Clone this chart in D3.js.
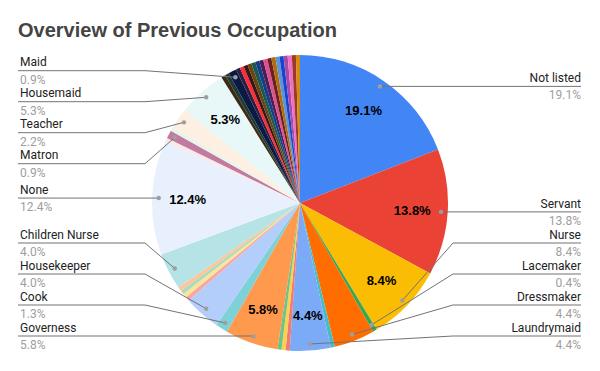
<!DOCTYPE html>
<html><head><meta charset="utf-8">
<script src="https://cdn.jsdelivr.net/npm/d3@7"></script>
<style>body{margin:0;background:#fff}svg{display:block}</style>
</head><body><svg id="c" width="600" height="371"></svg>
<script>
// ---- data ----
const categories = ["Not listed","Servant","Nurse","Lacemaker","Dressmaker","Other A","Laundrymaid",
  "Other B","Other C","Other D","Governess","Cook","Housekeeper","Other E","Other F","Other G","Other H",
  "Children Nurse","None","Other I","Matron","Other J","Teacher","Housemaid","Other K","Other L","Maid",
  "Other M","Other N","Other O","Other P","Other Q","Other R","Other S","Other T","Other U","Other V",
  "Other W","Other X","Other Y","Other Z","Other AA","Other AB"];
const counts = [43,31,19,1,10,1,10,
  1,1,1,13,3,9,1,1,1,1,
  9,28,1,2,1,5,12,1,1,2,
  1,1,1,1,1,1,1,1,1,1,
  1,1,1,1,1,1];
const colors = ["#4285f4","#ea4335","#fbbc04","#34a853","#ff6d01","#46bdc6","#7baaf7",
  "#f07b72","#fcd04f","#71c287","#ff994d","#7ed1d7","#b3cefb","#f7a7a0","#fde49b","#aedcba","#ffc599",
  "#b5e3e6","#e8f0fe","#fce8e6","#c27ba0","#e6f4ea","#feefe3","#e8f7f8","#3d2a10","#1f3b36","#0b1a45",
  "#2c1f3f","#ff2a3a","#3a1515","#6a4512","#1a5a50","#173c8c","#4b1f55","#e0508c","#6a2020","#b06d10",
  "#5f93d8","#1447d0","#a84aa6","#f070c8","#9a3a28","#d88a10"];
const calloutNames = ["Not listed","Servant","Nurse","Lacemaker","Dressmaker","Laundrymaid","Governess",
  "Cook","Housekeeper","Children Nurse","None","Matron","Teacher","Housemaid","Maid"];
const innerLabelNames = ["Not listed","Servant","Nurse","Laundrymaid","Governess","None","Housemaid"];
const titleText = "Overview of Previous Occupation";

// ---- layout ----
const W = 600, H = 371, cx = 300, cy = 203, R = 148;
const titleFont = "'Liberation Sans', Arial, sans-serif";
const labelFont = "Roboto, 'Liberation Sans', Arial, sans-serif";
const svg = d3.select("#c");
svg.append("rect").attr("width", W).attr("height", H).attr("fill", "#fff");

svg.append("text").attr("x", 18).attr("y", 37)
  .attr("font-family", titleFont).attr("font-weight", "bold").attr("font-size", 20)
  .attr("fill", "#444").text(titleText);

const data = categories.map((c, i) => ({ name: c, count: counts[i], color: colors[i] }));
const total = d3.sum(counts);
const fmt = d3.format(".1%");
const pie = d3.pie().sort(null).value(d => d.count);
const arcs = pie(data);
const arcGen = d3.arc().innerRadius(0).outerRadius(R);

const g = svg.append("g").attr("transform", `translate(${cx},${cy})`);
g.selectAll("path.slice").data(arcs).join("path").attr("class", "slice")
  .attr("d", arcGen).attr("fill", d => d.data.color);

// inner labels
const innerArc = d3.arc().innerRadius(R * 0.76).outerRadius(R * 0.76);
g.selectAll("text.inner").data(arcs.filter(a => innerLabelNames.includes(a.data.name)))
  .join("text").attr("class", "inner")
  .attr("transform", d => `translate(${innerArc.centroid(d)})`)
  .attr("text-anchor", "middle").attr("dy", "0.36em")
  .attr("font-family", titleFont).attr("font-weight", "bold").attr("font-size", 13)
  .attr("fill", "#000").text(d => fmt(d.data.count / total));

// callouts
const Rd = R * 0.955;
const callouts = arcs.filter(a => calloutNames.includes(a.data.name)).map(a => {
  const m = (a.startAngle + a.endAngle) / 2;
  const dx = cx + Math.sin(m) * Rd, dy = cy - Math.cos(m) * Rd;
  return { a, name: a.data.name, pct: fmt(a.data.count / total), dx, dy, side: Math.sin(m) >= 0 ? "right" : "left" };
});

const gap = 31, minY = 70.7, maxY = 336;
function layout(items) {
  items.sort((p, q) => p.dy - q.dy);
  const clusters = [];
  function place(c) {
    const n = c.items.length;
    const mean = d3.mean(c.items, d => d.dy);
    let top = mean - (n - 1) * gap / 2;
    top = Math.max(minY, Math.min(top, maxY - (n - 1) * gap));
    c.top = top; c.bottom = top + (n - 1) * gap;
  }
  items.forEach(it => {
    let c = { items: [it] }; place(c);
    while (clusters.length && clusters[clusters.length - 1].bottom + gap > c.top) {
      const prev = clusters.pop();
      c = { items: prev.items.concat(c.items) }; place(c);
    }
    clusters.push(c);
  });
  clusters.forEach(c => c.items.forEach((it, i) => { it.ly = c.top + i * gap; }));
}
layout(callouts.filter(c => c.side === "left"));
layout(callouts.filter(c => c.side === "right"));

const cg = svg.append("g");
callouts.forEach(c => {
  const left = c.side === "left";
  const elbowX = left ? 145 : 453;
  const endX = left ? 18 : 581;
  const textX = left ? 20 : 581;
  const pts = Math.abs(c.dy - c.ly) < 1.5 ? [[c.dx, c.ly], [endX, c.ly]] : [[c.dx, c.dy], [elbowX, c.ly], [endX, c.ly]];
  cg.append("path").attr("d", d3.line()(pts)).attr("fill", "none")
    .attr("stroke", "#737373").attr("stroke-width", 1);
  cg.append("circle").attr("cx", c.dx).attr("cy", c.dy).attr("r", 2.2).attr("fill", "#9e9e9e");
  cg.append("text").attr("x", textX).attr("y", c.ly - 4.3)
    .attr("text-anchor", left ? "start" : "end")
    .attr("font-family", labelFont).attr("font-size", 12).attr("fill", "#222").text(c.name);
  cg.append("text").attr("x", textX).attr("y", c.ly + 12.8)
    .attr("text-anchor", left ? "start" : "end")
    .attr("font-family", labelFont).attr("font-size", 12).attr("fill", "#9e9e9e").text(c.pct);
});
</script>
</body></html>
